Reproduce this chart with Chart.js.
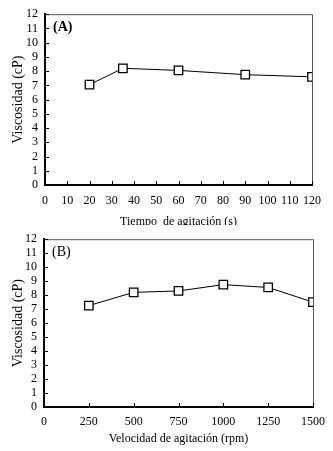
<!DOCTYPE html>
<html>
<head>
<meta charset="utf-8">
<script src="https://cdn.jsdelivr.net/npm/chart.js@4"></script>
<style>
  html, body { margin: 0; padding: 0; background: #fff; }
  canvas { display: block; }
</style>
</head>
<body>
<div style="width:333px;height:225px"><canvas id="chartA" width="333" height="225"></canvas></div>
<div style="width:333px;height:226px"><canvas id="chartB" width="333" height="226"></canvas></div>
<script>
// data, panel A: stirring time (s)
const timeValues = [20, 35, 60, 90, 120];
const viscosityA = [7.05, 8.2, 8.05, 7.75, 7.6];
// data, panel B: stirring speed (rpm)
const speedValues = [250, 500, 750, 1000, 1250, 1500];
const viscosityB = [7.25, 8.2, 8.3, 8.75, 8.55, 7.5];

const FONT = "'Liberation Serif', 'Times New Roman', serif";

// inward ticks + thin top/right frame + panel letter
const framePlugin = {
    id: 'frame',
    afterDraw(chart, args, opts) {
        const ctx = chart.ctx;
        const a = chart.chartArea;
        const x = chart.scales.x, y = chart.scales.y;
        ctx.save();
        ctx.strokeStyle = '#555';
        ctx.lineWidth = 1;
        ctx.beginPath();
        ctx.moveTo(a.left, a.top + 0.5);
        ctx.lineTo(a.right + 0.5, a.top + 0.5);
        ctx.lineTo(a.right + 0.5, a.bottom);
        ctx.stroke();

        ctx.strokeStyle = '#000';
        ctx.lineWidth = 1;
        ctx.beginPath();
        x.ticks.forEach((t, i) => {
            const px = Math.round(x.getPixelForTick(i)) + 0.5;
            ctx.moveTo(px, a.bottom);
            ctx.lineTo(px, a.bottom - 4);
        });
        y.ticks.forEach((t, i) => {
            const py = Math.round(y.getPixelForTick(i)) + 0.5;
            ctx.moveTo(a.left, py);
            ctx.lineTo(a.left + 4, py);
        });
        ctx.stroke();

        ctx.fillStyle = '#000';
        ctx.font = (opts.bold ? 'bold ' : '') + '14px ' + FONT;
        ctx.textBaseline = 'middle';
        ctx.fillText(opts.label, a.left + 8, a.top + 13);
        ctx.restore();
    }
};

function makeChart(id, xs, ys, xMax, xStep, xTitle, letter, bold, area) {
    return new Chart(document.getElementById(id), {
        type: 'line',
        data: {
            datasets: [{
                data: xs.map((v, i) => ({ x: v, y: ys[i] })),
                borderColor: '#000',
                borderWidth: 1,
                pointStyle: 'rect',
                pointRadius: 6,
                pointBackgroundColor: '#fff',
                pointBorderColor: '#000',
                pointBorderWidth: 1.3,
                tension: 0
            }]
        },
        options: {
            responsive: false,
            animation: false,
            events: [],
            layout: { padding: { top: area.top, right: area.right, left: 0, bottom: area.bottom } },
            plugins: {
                legend: { display: false },
                tooltip: { enabled: false },
                frame: { label: letter, bold: bold }
            },
            scales: {
                x: {
                    type: 'linear',
                    min: 0, max: xMax,
                    grid: { display: false, drawTicks: false },
                    border: { color: '#000', width: 2 },
                    ticks: { stepSize: xStep, color: '#000', padding: area.tickPad, maxRotation: 0, autoSkip: false,
                             callback: v => String(v),
                             font: { family: FONT, size: 12 } },
                    title: { display: true, text: xTitle, color: '#000', padding: { top: 0, bottom: 0 },
                             font: { family: FONT, size: 12 } },
                    afterFit(s) { s.height = area.xh; }
                },
                y: {
                    min: 0, max: 12,
                    grid: { display: false, drawTicks: false },
                    border: { color: '#000', width: 2 },
                    ticks: { stepSize: 1, color: '#000', padding: 7, autoSkip: false,
                             font: { family: FONT, size: 12 } },
                    title: { display: true, text: 'Viscosidad (cP)', color: '#000', padding: { top: 10, bottom: 0 },
                             font: { family: FONT, size: 14 } },
                    afterFit(s) { s.width = area.left; }
                }
            }
        },
        plugins: [framePlugin]
    });
}

makeChart('chartA', timeValues, viscosityA, 120, 10, 'Tiempo  de agitación (s)', '(A)', true,
    { top: 11, right: 21, left: 45, xh: 44, bottom: -4, tickPad: 9 });
makeChart('chartB', speedValues, viscosityB, 1500, 250, 'Velocidad de agitación (rpm)', '(B)', false,
    { top: 9, right: 17, left: 44, xh: 39, bottom: 5, tickPad: 8 });
</script>
</body>
</html>
